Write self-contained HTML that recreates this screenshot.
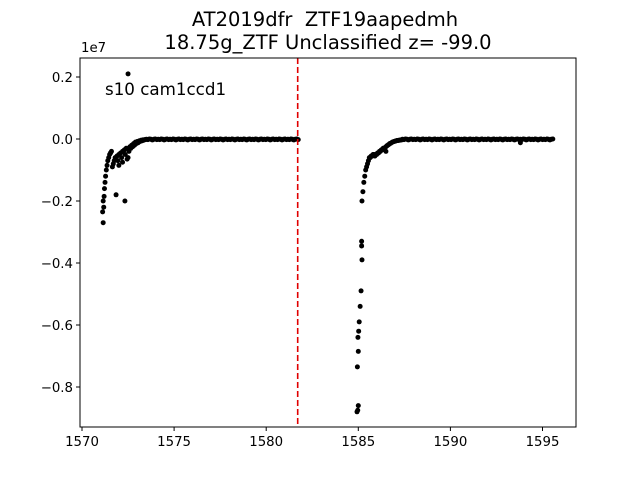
<!DOCTYPE html>
<html><head><meta charset="utf-8"><style>
html,body{margin:0;padding:0;background:#fff;}
svg text{font-family:"DejaVu Sans","Liberation Sans",sans-serif;}
</style></head><body>
<svg id="chart" width="640" height="480" viewBox="0 0 640 480" xmlns="http://www.w3.org/2000/svg">
<rect width="640" height="480" fill="#fff"/>
<text x="325" y="26" font-size="19.5" text-anchor="middle">AT2019dfr&#160; ZTF19aapedmh</text>
<text x="328" y="49" font-size="19.5" text-anchor="middle">18.75g_ZTF Unclassified z= -99.0</text>
<text x="81" y="52" font-size="13.3">1e7</text>
<g id="ticks"></g>
<g id="marks"></g>
<text x="105" y="95" font-size="16.7">s10 cam1ccd1</text>
<rect x="80" y="58" width="496" height="369" fill="none" stroke="#000" stroke-width="1"/>
</svg>
<script>
const xTicks=[1570,1575,1580,1585,1590,1595];
const yTicks=[0.2,0.0,-0.2,-0.4,-0.6,-0.8];
const yTickLabels=["0.2","0.0","\u22120.2","\u22120.4","\u22120.6","\u22120.8"];
const peakDate=[1581.71];
// rising part + outliers (days, flux in 1e7)
const mjdA=[1571.15,1571.12,1571.18,1571.15,1571.2,1571.22,1571.25,1571.28,1571.32,1571.36,1571.4,1571.45,1571.5,1571.55,1571.6,1571.7,1571.75,1571.8,1571.9,1572.0,1572.1,1572.2,1572.3,1572.4,1571.85,1572.33,1572.5,1572.5,1572.6,1572.7,1572.8,1572.9,1573.0,1573.1,1573.2,1573.3,1573.4,1572.0,1572.2,1572.45,1571.65,1571.95,1572.15,1572.35,1572.55,1572.65,1572.75,1572.85,1572.95,1573.05,1573.15,1573.25,1573.35,1573.45];
const fluxA=[-0.27,-0.235,-0.22,-0.2,-0.185,-0.16,-0.14,-0.12,-0.1,-0.085,-0.07,-0.06,-0.05,-0.045,-0.04,-0.08,-0.07,-0.06,-0.055,-0.05,-0.045,-0.04,-0.035,-0.03,-0.18,-0.2,0.21,-0.06,-0.025,-0.02,-0.015,-0.01,-0.008,-0.006,-0.004,-0.003,-0.002,-0.085,-0.075,-0.065,-0.09,-0.07,-0.06,-0.05,-0.04,-0.03,-0.025,-0.02,-0.015,-0.012,-0.008,-0.006,-0.004,-0.002];
const mjdB=[1584.93,1584.97,1585.0,1584.95,1585.0,1584.98,1585.02,1585.05,1585.1,1585.15,1585.2,1585.18,1585.18,1585.2,1585.25,1585.3,1585.35,1585.4,1585.5,1585.6,1585.7,1585.8,1585.9,1586.0,1586.1,1586.2,1586.3,1586.4,1586.5,1586.6,1586.7,1586.8,1586.9,1587.0,1587.1,1587.2,1587.3,1586.5,1593.8,1585.45,1585.55,1585.65,1585.75,1585.85,1585.95,1586.05,1586.15,1586.25,1586.35,1586.45,1586.55,1586.65,1586.75,1586.85,1586.95,1587.05,1587.15,1587.25,1587.35];
const fluxB=[-0.88,-0.875,-0.86,-0.735,-0.685,-0.64,-0.62,-0.59,-0.54,-0.49,-0.39,-0.345,-0.33,-0.2,-0.17,-0.14,-0.12,-0.1,-0.08,-0.06,-0.055,-0.05,-0.055,-0.05,-0.045,-0.04,-0.035,-0.03,-0.025,-0.02,-0.015,-0.012,-0.009,-0.007,-0.005,-0.004,-0.003,-0.04,-0.012,-0.09,-0.07,-0.06,-0.055,-0.05,-0.05,-0.045,-0.04,-0.035,-0.03,-0.028,-0.022,-0.018,-0.014,-0.01,-0.008,-0.006,-0.005,-0.004,-0.003];
// flat plateau
const flatStartA=[1573.5], flatEndA=[1581.75], flatStartB=[1587.4], flatEndB=[1595.6];
const flatFlux=[-0.001,-0.002,0.0,-0.001,-0.003,-0.001,0.0,-0.002];
const X0=82,XS=92.1/5, Y0=139, YS=310;
function xs(v){return X0+(v-1570)*XS;}
function ys(v){return Y0-v*YS;}
const NS="http://www.w3.org/2000/svg";
const tg=document.getElementById('ticks'), mg=document.getElementById('marks');
xTicks.forEach(t=>{
 const l=document.createElementNS(NS,'line');
 
 
 l.setAttribute('x1',xs(t));l.setAttribute('x2',xs(t));l.setAttribute('y1',427);l.setAttribute('y2',431);l.setAttribute('stroke','#000');tg.appendChild(l);
 const tx=document.createElementNS(NS,'text');
 
 
 tx.setAttribute('x',xs(t));tx.setAttribute('y',446);tx.setAttribute('font-size','13.3');tx.setAttribute('text-anchor','middle');tx.textContent=t;tg.appendChild(tx);
});
yTicks.forEach((t,i)=>{
 const l=document.createElementNS(NS,'line');
 
 
 l.setAttribute('x1',76);l.setAttribute('x2',80);l.setAttribute('y1',ys(t));l.setAttribute('y2',ys(t));l.setAttribute('stroke','#000');tg.appendChild(l);
 const tx=document.createElementNS(NS,'text');
 
 
 tx.setAttribute('x',73);tx.setAttribute('y',ys(t)+5);tx.setAttribute('font-size','13.3');tx.setAttribute('text-anchor','end');tx.textContent=yTickLabels[i];tg.appendChild(tx);
});
function dot(x,y){
 const c=document.createElementNS(NS,'circle');
 
 
 c.setAttribute('cx',xs(x));c.setAttribute('cy',ys(y));c.setAttribute('r',2.5);c.setAttribute('fill','#000');mg.appendChild(c);
}
mjdA.forEach((m,i)=>dot(m,fluxA[i]));
mjdB.forEach((m,i)=>dot(m,fluxB[i]));
let k=0;
for(let d=flatStartA[0];d<=flatEndA[0];d+=0.08){dot(d,flatFlux[k++%flatFlux.length]);}
for(let d=flatStartB[0];d<=flatEndB[0];d+=0.08){dot(d,flatFlux[k++%flatFlux.length]);}
const pl=document.createElementNS(NS,'line');


pl.setAttribute('x1',xs(peakDate[0]));pl.setAttribute('x2',xs(peakDate[0]));pl.setAttribute('y1',58);pl.setAttribute('y2',427);
pl.setAttribute('stroke','#e00000');pl.setAttribute('stroke-width','1.6');pl.setAttribute('stroke-dasharray','6,3');
mg.appendChild(pl);
</script>
</body></html>
